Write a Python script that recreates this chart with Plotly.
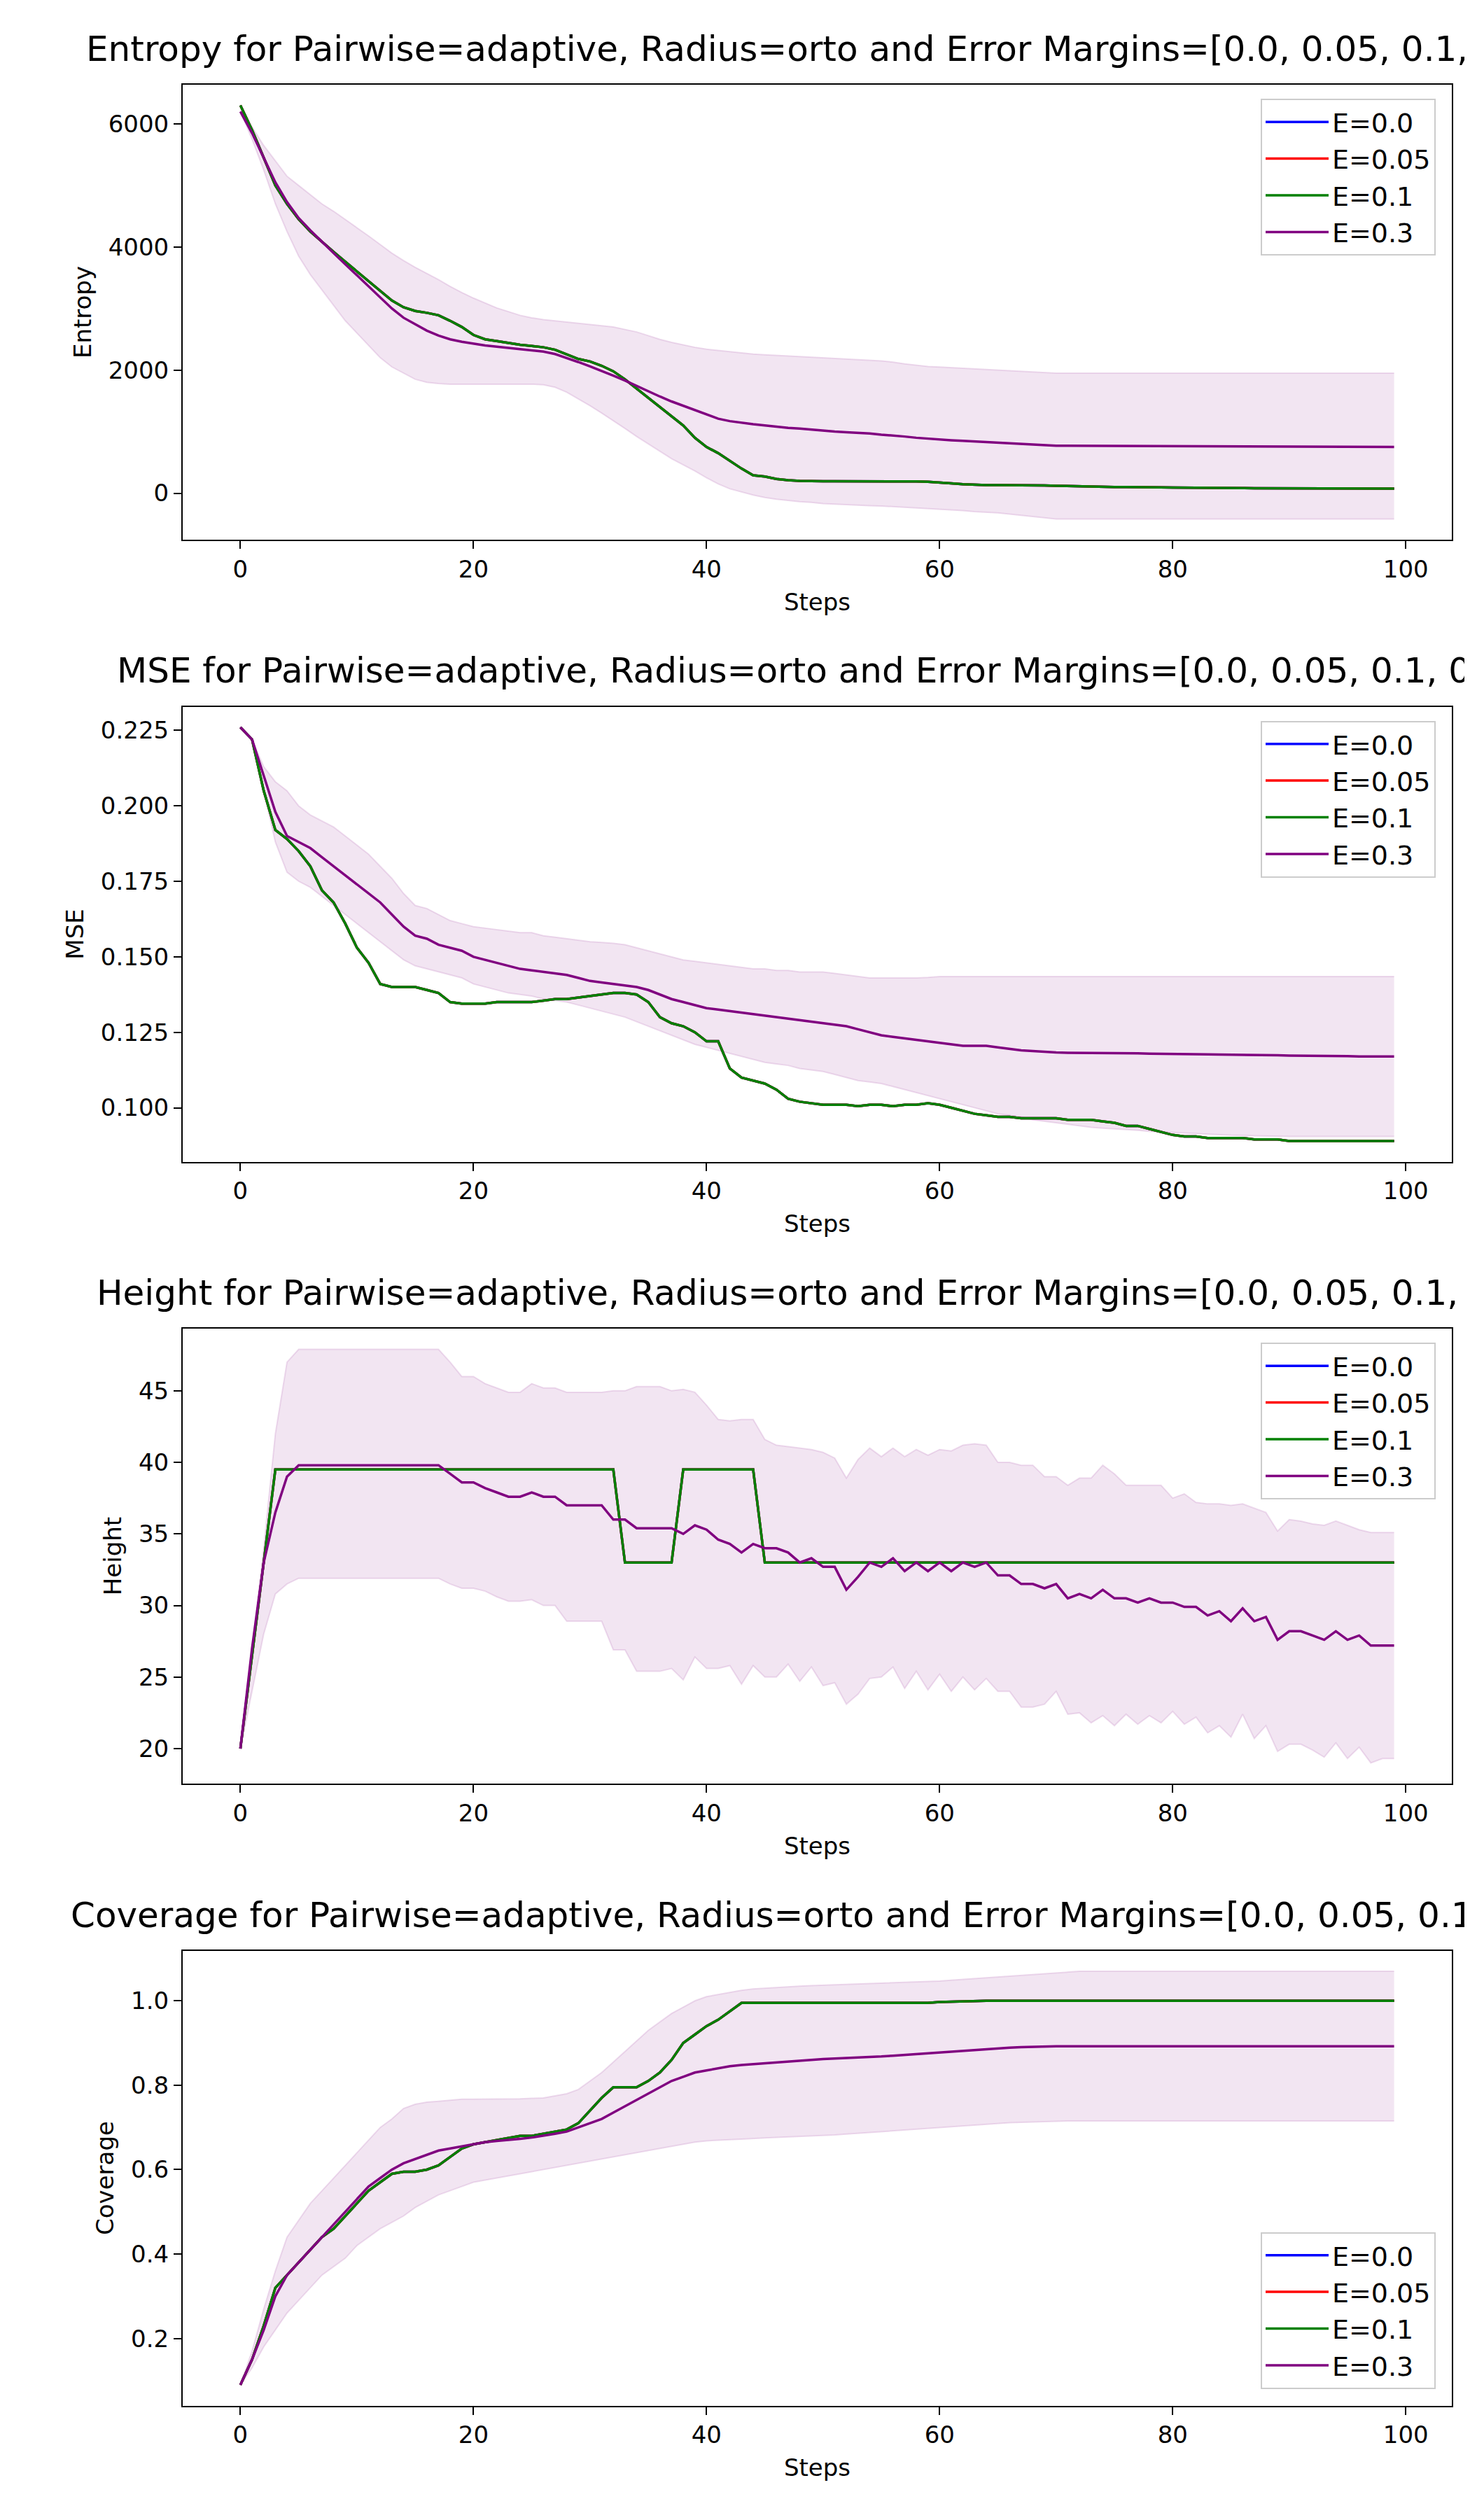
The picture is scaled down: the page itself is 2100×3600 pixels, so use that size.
import plotly.graph_objects as go

steps = list(range(100))
legend_names = ["E=0.0", "E=0.05", "E=0.1", "E=0.3"]

# ---------------- Entropy ----------------
entropy_e01 = [6300,5900,5450,5000,4700,4450,4250,4080,3920,3760,
 3600,3440,3280,3130,3020,2960,2930,2890,2800,2700,
 2570,2500,2470,2440,2410,2390,2370,2330,2250,2180,
 2140,2070,1980,1850,1700,1550,1400,1250,1100,900,
 750,650,520,400,290,270,230,210,200,195,
 195,195,195,195,195,190,190,190,190,185,
 175,160,145,135,130,130,130,130,125,125,
 120,115,110,105,100,100,100,100,100,95,
 90,90,85,85,85,82,82,80,80,80,
 80,78,78,78,77,77,76,76,75,75]
entropy_e03 = [6200,5850,5450,5050,4730,4470,4270,4080,3900,3720,
 3540,3360,3180,3000,2850,2740,2640,2560,2500,2460,
 2430,2400,2380,2360,2340,2320,2300,2260,2200,2130,
 2060,1990,1910,1830,1740,1650,1570,1490,1420,1350,
 1270,1210,1170,1140,1120,1100,1080,1060,1050,1030,
 1020,1000,990,980,970,950,940,920,900,885,
 870,860,850,840,830,815,805,795,785,775,
 770,770,769,768,767,766,765,765,764,763,
 762,761,760,760,759,758,757,757,756,755,
 755,754,753,753,752,752,751,751,750,750]
entropy_e03_hi = [6200,5950,5650,5400,5150,5000,4850,4700,4580,4450,
 4320,4180,4040,3900,3780,3670,3570,3470,3360,3260,
 3170,3090,3010,2950,2890,2850,2820,2800,2780,2760,
 2740,2720,2700,2660,2620,2560,2500,2450,2410,2370,
 2340,2320,2300,2280,2260,2250,2240,2230,2220,2210,
 2200,2190,2180,2170,2160,2150,2130,2100,2080,2060,
 2050,2040,2030,2020,2010,2000,1990,1980,1970,1960,
 1950,1950,1950,1950,1950,1950,1950,1950,1950,1950,
 1950,1950,1950,1950,1950,1950,1950,1950,1950,1950,
 1950,1950,1950,1950,1950,1950,1950,1950,1950,1950]
entropy_e03_lo = [6200,5750,5250,4700,4250,3850,3550,3300,3050,2800,
 2600,2400,2200,2050,1950,1850,1800,1780,1770,1770,
 1770,1770,1770,1770,1770,1770,1760,1720,1640,1530,
 1420,1300,1180,1050,920,800,680,560,460,360,
 250,150,70,20,-30,-70,-100,-120,-140,-150,
 -170,-180,-190,-200,-205,-210,-220,-230,-240,-250,
 -260,-270,-285,-300,-310,-320,-340,-360,-380,-400,
 -420,-420,-420,-420,-420,-420,-420,-420,-420,-420,
 -420,-420,-420,-420,-420,-420,-420,-420,-420,-420,
 -420,-420,-420,-420,-420,-420,-420,-420,-420,-420]

# ---------------- MSE ----------------
mse_e01 = [.226,.222,.205,.192,.189,.185,.180,.172,.168,.161,
 .153,.148,.141,.140,.140,.140,.139,.138,.135,.1345,
 .1345,.1345,.135,.135,.135,.135,.1355,.136,.136,.1365,
 .137,.1375,.138,.138,.1375,.135,.130,.128,.127,.125,
 .122,.122,.113,.110,.109,.108,.106,.103,.102,.1015,
 .101,.101,.101,.1005,.101,.101,.1005,.101,.101,.1015,
 .101,.100,.099,.098,.0975,.097,.097,.0965,.0965,.0965,
 .0965,.096,.096,.096,.0955,.095,.094,.094,.093,.092,
 .091,.0905,.0905,.090,.090,.090,.090,.0895,.0895,.0895,
 .089,.089,.089,.089,.089,.089,.089,.089,.089,.089]
mse_e03 = [.226,.222,.21,.198,.19,.188,.186,.183,.180,.177,
 .174,.171,.168,.164,.160,.157,.156,.154,.153,.152,
 .150,.149,.148,.147,.146,.1455,.145,.1445,.144,.143,
 .142,.1415,.141,.1405,.140,.139,.1375,.136,.135,.134,
 .133,.1325,.132,.1315,.131,.1305,.130,.1295,.129,.1285,
 .128,.1275,.127,.126,.125,.124,.1235,.123,.1225,.122,
 .1215,.121,.1205,.1205,.1205,.120,.1195,.119,.1188,.1185,
 .1183,.1182,.1182,.1181,.1181,.118,.118,.118,.1179,.1179,
 .1178,.1178,.1177,.1177,.1176,.1176,.1175,.1175,.1174,.1174,
 .1173,.1173,.1172,.1172,.1171,.1171,.117,.117,.117,.117]
mse_e03_hi = [.226,.222,.213,.208,.205,.200,.197,.195,.193,.190,
 .187,.184,.180,.176,.171,.167,.166,.164,.162,.161,
 .160,.1595,.159,.1585,.158,.158,.157,.1565,.156,.1555,
 .155,.1548,.1545,.154,.153,.152,.151,.150,.149,.1485,
 .148,.1475,.147,.1465,.146,.146,.1455,.1455,.145,.145,
 .145,.1445,.144,.1435,.143,.143,.143,.143,.143,.1432,
 .1435,.1435,.1435,.1435,.1435,.1435,.1435,.1435,.1435,.1435,
 .1435,.1435,.1435,.1435,.1435,.1435,.1435,.1435,.1435,.1435,
 .1435,.1435,.1435,.1435,.1435,.1435,.1435,.1435,.1435,.1435,
 .1435,.1435,.1435,.1435,.1435,.1435,.1435,.1435,.1435,.1435]
mse_e03_lo = [.226,.222,.205,.188,.178,.175,.173,.170,.167,.164,
 .161,.158,.155,.152,.149,.147,.146,.145,.144,.143,
 .141,.140,.139,.138,.1375,.137,.136,.1355,.135,.134,
 .133,.132,.131,.130,.1285,.127,.1255,.124,.1225,.121,
 .120,.119,.118,.117,.116,.115,.1145,.114,.113,.1125,
 .112,.111,.110,.109,.1085,.108,.107,.106,.105,.104,
 .103,.102,.101,.100,.099,.098,.0975,.097,.096,.0955,
 .095,.0945,.094,.0935,.0932,.093,.0928,.0925,.0922,.092,
 .0918,.0916,.0914,.0912,.091,.0909,.0908,.0907,.0906,.0905,
 .0905,.0905,.0905,.0905,.0905,.0905,.0905,.0905,.0905,.0905]

# ---------------- Height ----------------
height_e01 = ([20,26.5,33,39.5] + [39.5]*29 + [33]*5 + [39.5]*7 + [33]*55)
height_e03 = [20,27,33,36.5,39,39.8,39.8,39.8,39.8,39.8,
 39.8,39.8,39.8,39.8,39.8,39.8,39.8,39.8,39.2,38.6,
 38.6,38.2,37.9,37.6,37.6,37.9,37.6,37.6,37.0,37.0,
 37.0,37.0,36.0,36.0,35.4,35.4,35.4,35.4,35.0,35.6,
 35.3,34.6,34.3,33.7,34.3,34.0,34.0,33.7,33.0,33.3,
 32.7,32.7,31.1,32.0,33.0,32.7,33.3,32.4,33.0,32.4,
 33.0,32.4,33.0,32.7,33.0,32.1,32.1,31.5,31.5,31.2,
 31.5,30.5,30.8,30.5,31.1,30.5,30.5,30.2,30.5,30.2,
 30.2,29.9,29.9,29.3,29.6,28.9,29.8,28.9,29.2,27.6,
 28.2,28.2,27.9,27.6,28.2,27.6,27.9,27.2,27.2,27.2]
height_e03_hi = [20,27,34,42,47,47.9,47.9,47.9,47.9,47.9,
 47.9,47.9,47.9,47.9,47.9,47.9,47.9,47.9,47.0,46.0,
 46.0,45.5,45.2,44.9,44.9,45.5,45.2,45.2,44.9,44.9,
 44.9,44.9,45.0,45.0,45.3,45.3,45.3,45.0,45.1,44.9,
 44.0,43.0,42.9,43.0,43.0,41.6,41.2,41.1,41.0,40.9,
 40.7,40.3,38.9,40.2,41.0,40.4,41.0,40.4,40.9,40.5,
 40.9,40.8,41.2,41.3,41.2,40.0,40.0,39.8,39.8,39.0,
 39.0,38.4,38.9,38.9,39.8,39.2,38.4,38.4,38.4,38.4,
 37.5,37.8,37.2,37.1,37.1,37.0,37.1,36.8,36.5,35.2,
 36.0,35.9,35.7,35.6,35.9,35.6,35.3,35.1,35.1,35.1]
height_e03_lo = [20,24,28,30.8,31.5,31.9,31.9,31.9,31.9,31.9,
 31.9,31.9,31.9,31.9,31.9,31.9,31.9,31.9,31.5,31.2,
 31.2,31.0,30.6,30.3,30.3,30.4,30.0,30.0,28.9,28.9,
 28.9,28.9,26.9,26.9,25.4,25.4,25.4,25.6,24.8,26.4,
 25.6,25.6,25.8,24.5,25.8,25.0,25.0,25.9,24.7,25.7,
 24.4,24.6,23.1,23.8,24.9,25.0,25.7,24.2,25.4,24.1,
 25.2,24.0,25.0,24.1,24.9,24.0,24.0,22.9,22.9,23.1,
 24.0,22.4,22.5,21.8,22.3,21.6,22.4,21.7,22.3,21.8,
 22.6,21.7,22.2,21.1,21.6,20.8,22.4,20.7,21.6,19.8,
 20.3,20.3,19.9,19.4,20.4,19.3,20.1,19.0,19.3,19.3]

# ---------------- Coverage ----------------
coverage_e01 = ([.09,.15,.23,.32,.35,.38,.41,.44,.46,.49,
 .52,.55,.57,.59,.595,.595,.60,.61,.63,.65,
 .66,.665,.67,.675,.68,.68,.685,.69,.695,.71,
 .74,.77,.795,.795,.795,.81,.83,.86,.90,.92,
 .94,.955,.975,.995] + [.995]*16 + [.997,.998,.999] + [1.0]*37)
coverage_e03 = ([.09,.15,.22,.30,.35,.38,.41,.44,.47,.50,
 .53,.56,.58,.60,.615,.625,.635,.645,.65,.655,
 .66,.665,.668,.67,.673,.676,.68,.685,.69,.70,
 .71,.72,.735,.75,.765,.78,.795,.81,.82,.83,
 .835,.84,.845,.848,.85,.852,.855,.857,.859,.86,
 .862,.863,.864,.865,.866,.868,.87,.872,.874,.876,
 .878,.88,.882,.884,.885,.887,.889,.89,.891] + [.892]*31)
coverage_e03_hi = ([.09,.17,.27,.36,.44,.48,.52,.55,.58,.61,
 .64,.67,.70,.72,.745,.755,.76,.762,.765,.767,
 .767,.767,.767,.767,.768,.769,.77,.775,.78,.79,
 .81,.83,.855,.88,.905,.93,.95,.97,.985,1.0,
 1.01,1.015,1.02,1.025,1.028,1.03,1.032,1.034,1.035,1.036,
 1.037,1.038,1.039,1.04,1.041,1.042,1.043,1.044,1.045,1.045,
 1.047,1.049,1.051,1.053,1.055,1.057,1.059,1.061,1.063,1.065,
 1.067,1.068] + [1.07]*28)
coverage_e03_lo = ([.09,.13,.18,.22,.26,.29,.32,.35,.37,.39,
 .42,.44,.46,.475,.49,.51,.525,.54,.55,.56,
 .57,.575,.58,.585,.59,.595,.60,.605,.61,.615,
 .62,.625,.63,.635,.64,.645,.65,.655,.66,.665,
 .668,.67,.671,.672,.674,.675,.676,.677,.678,.679,
 .68,.682,.684,.686,.688,.69,.692,.694,.696,.698,
 .70,.702,.704,.706,.708,.71,.711,.712,.713,.714] + [.715]*30)

panels = [
    ("Entropy", entropy_e01, entropy_e03, entropy_e03_lo, entropy_e03_hi, [0, 2000, 4000, 6000], ["0", "2000", "4000", "6000"], "top"),
    ("MSE", mse_e01, mse_e03, mse_e03_lo, mse_e03_hi, [0.100, 0.125, 0.150, 0.175, 0.200, 0.225],
     ["0.100", "0.125", "0.150", "0.175", "0.200", "0.225"], "top"),
    ("Height", height_e01, height_e03, height_e03_lo, height_e03_hi, [20, 25, 30, 35, 40, 45],
     ["20", "25", "30", "35", "40", "45"], "top"),
    ("Coverage", coverage_e01, coverage_e03, coverage_e03_lo, coverage_e03_hi, [0.2, 0.4, 0.6, 0.8, 1.0],
     ["0.2", "0.4", "0.6", "0.8", "1.0"], "bottom"),
]
for p in panels:
    for arr in p[1:5]:
        assert len(arr) == 100, (p[0], len(arr))

W, H = 2100, 3600
XL, XR = 253, 2066
TOP0, PH, GAP = 113, 650, 888.5
FONT = "DejaVu Sans"

fig = go.Figure()
layout = dict(width=W, height=H, margin=dict(l=0, r=0, t=0, b=0),
              paper_bgcolor="white", plot_bgcolor="white", showlegend=True,
              font=dict(family=FONT, color="black", size=34))
annotations = []
colors = ["blue", "red", "green", "purple"]

for i, (name, e01, e03, lo, hi, tv, tt, legpos) in enumerate(panels):
    n = i + 1
    xa = "x" if n == 1 else f"x{n}"
    ya = "y" if n == 1 else f"y{n}"
    leg = "legend" if n == 1 else f"legend{n}"
    top = TOP0 + GAP * i
    bot = top + PH
    fig.add_trace(go.Scatter(x=steps, y=lo, xaxis=xa, yaxis=ya, mode="lines",
                             line=dict(color="rgba(128,0,128,0.12)", width=2),
                             showlegend=False, hoverinfo="skip"))
    fig.add_trace(go.Scatter(x=steps, y=hi, xaxis=xa, yaxis=ya, mode="lines", fill="tonexty",
                             fillcolor="rgba(128,0,128,0.1)",
                             line=dict(color="rgba(128,0,128,0.12)", width=2),
                             showlegend=False, hoverinfo="skip"))
    series = [e01, e01, e01, e03]
    for nm, c, s in zip(legend_names, colors, series):
        fig.add_trace(go.Scatter(x=steps, y=s, xaxis=xa, yaxis=ya, mode="lines", name=nm,
                                 line=dict(color=c, width=3.5), legend=leg))
    allv = lo + hi + e01 + e03
    mn, mx = min(allv), max(allv)
    pad = (mx - mn) * 0.05
    axis_common = dict(showline=True, linecolor="black", linewidth=2, mirror=True,
                       ticks="outside", ticklen=11, tickwidth=2, tickcolor="black",
                       showgrid=False, zeroline=False, tickfont=dict(size=34, family=FONT))
    layout["xaxis" if n == 1 else f"xaxis{n}"] = dict(
        domain=[XL / W, XR / W], anchor=ya, range=[-4.95, 103.95],
        tickvals=[0, 20, 40, 60, 80, 100], ticktext=["0", "20", "40", "60", "80", "100"],
        title=dict(text="Steps", font=dict(size=34, family=FONT), standoff=16), **axis_common)
    layout["yaxis" if n == 1 else f"yaxis{n}"] = dict(
        domain=[1 - bot / H, 1 - top / H], anchor=xa, range=[mn - pad, mx + pad],
        tickvals=tv, ticktext=tt,
        title=dict(text=name, font=dict(size=34, family=FONT), standoff=14), **axis_common)
    if legpos == "top":
        ly, lya = 1 - (top + 20) / H, "top"
    else:
        ly, lya = 1 - (bot - 24) / H, "bottom"
    layout[leg] = dict(x=2043 / W, xanchor="right", y=ly, yanchor=lya, traceorder="normal",
                       bgcolor="rgba(255,255,255,0.8)", bordercolor="#cccccc", borderwidth=2,
                       font=dict(size=38, family=FONT), itemwidth=90)
    annotations.append(dict(
        text=f"{name} for Pairwise=adaptive, Radius=orto and Error Margins=[0.0, 0.05, 0.1, 0.3]",
        xref="paper", yref="paper", x=(XL + XR) / 2 / W, y=1 - (top - 20) / H,
        xanchor="center", yanchor="bottom", showarrow=False,
        font=dict(size=50, family=FONT, color="black")))

layout["annotations"] = annotations
fig.update_layout(**layout)
fig.write_html("out.html")
